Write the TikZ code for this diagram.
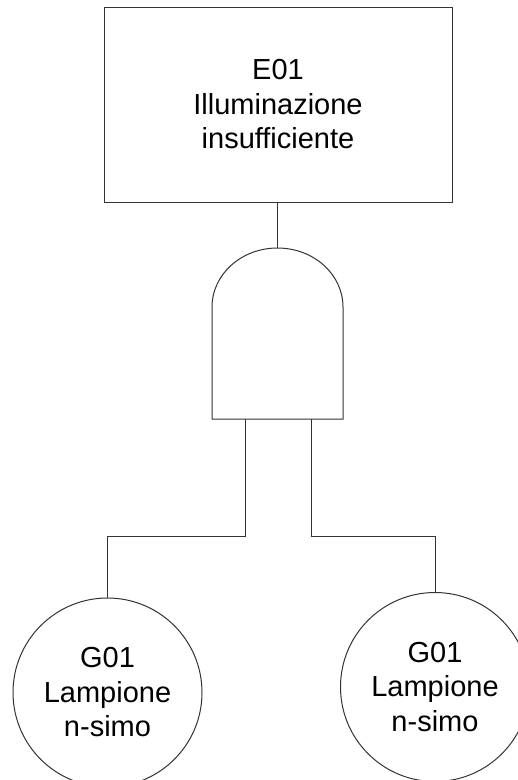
\documentclass[tikz,border=0pt]{standalone}
\usepackage{fontspec}
\setmainfont{Liberation Sans}
\usepackage{tikz}
\usetikzlibrary{positioning, calc}

\begin{document}
\begin{tikzpicture}[x=1pt, y=-1pt, line width=1pt, draw=black!80,
    event/.style = {draw, rectangle, minimum width=348pt, minimum height=195pt, align=center, font=\fontsize{29}{34.5}\selectfont},
    basic/.style = {draw, circle, inner sep=0pt, minimum size=189pt, align=center, font=\fontsize{29}{34.5}\selectfont}]
    \useasboundingbox (0,0) rectangle (518,780);
    \node[event] (E) at (278,104.5) {E01\\Illuminazione\\insufficiente};
    % porta AND
    \draw (212,419) -- (212,307) .. controls (212,274.4) and (241.3,248) .. (277.5,248)
        .. controls (313.7,248) and (343,274.4) .. (343,307) -- (343,419) -- cycle;
    \coordinate (gtop) at (277.5,248);
    \coordinate (gin1) at (245,419);
    \coordinate (gin2) at (311,419);
    \node[basic] (G1) at (107.5,692.5) {G01\\Lampione\\n-simo};
    \node[basic] (G2) at (435,687) {G01\\Lampione\\n-simo};
    \draw (E.south -| gtop) -- (gtop);
    \draw (gin1) -- (gin1 |- 0,536) -| (G1.north);
    \draw (gin2) -- (gin2 |- 0,536) -| (G2.north);
\end{tikzpicture}
\end{document}
